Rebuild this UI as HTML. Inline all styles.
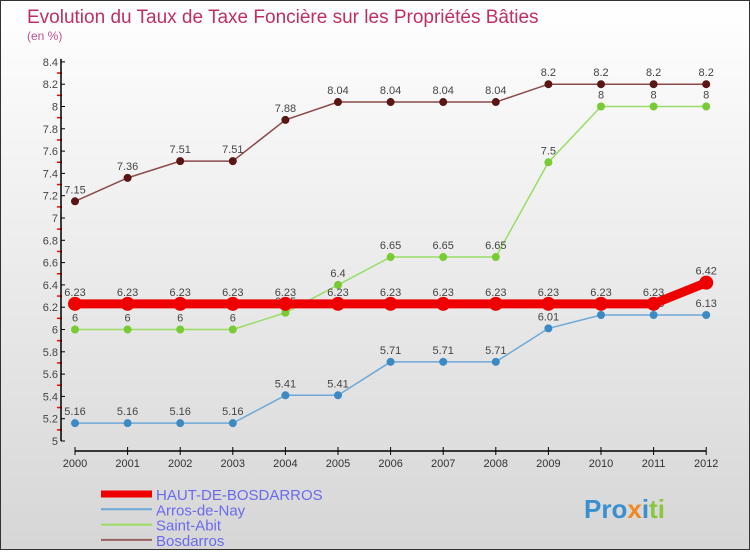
<!DOCTYPE html>
<html><head><meta charset="utf-8"><style>
html,body{margin:0;padding:0}
body{width:750px;height:550px;overflow:hidden;font-family:"Liberation Sans",sans-serif}
#wrap{position:relative;width:748px;height:548px;border:1px solid #333;background:linear-gradient(#ffffff,#d6d6d6)}
</style></head><body>
<div id="wrap">
<svg id="chart" width="748" height="548" xmlns="http://www.w3.org/2000/svg">
<text x="26" y="22" font-size="19" fill="#c0305f">Evolution du Taux de Taxe Foncière sur les Propriétés Bâties</text>
<text x="26" y="39" font-size="12" fill="#c0508f">(en %)</text>
<g id="axes"></g><g id="series"></g><g id="legend"></g>
<text x="583" y="517" font-size="26" font-weight="bold" fill="#3a8fd0">Pro<tspan fill="#f08a20">x</tspan><tspan fill="#3a8fd0">i</tspan><tspan fill="#8cc63f">ti</tspan></text>
</svg>
</div>
<script>
const years=[2000,2001,2002,2003,2004,2005,2006,2007,2008,2009,2010,2011,2012];
const haut=[6.23,6.23,6.23,6.23,6.23,6.23,6.23,6.23,6.23,6.23,6.23,6.23,6.42];
const arros=[5.16,5.16,5.16,5.16,5.41,5.41,5.71,5.71,5.71,6.01,6.13,6.13,6.13];
const saint=[6,6,6,6,6.15,6.4,6.65,6.65,6.65,7.5,8,8,8];
const bosd=[7.15,7.36,7.51,7.51,7.88,8.04,8.04,8.04,8.04,8.2,8.2,8.2,8.2];
const yTicks=[5,5.2,5.4,5.6,5.8,6,6.2,6.4,6.6,6.8,7,7.2,7.4,7.6,7.8,8,8.2,8.4];
const NS="http://www.w3.org/2000/svg";
const X=i=>74+i*52.6;
const Y=v=>440-(v-5)*111.5;
function mk(t,a,p){const e=document.createElementNS(NS,t);for(const k in a)e.setAttribute(k,a[k]);(p||document.getElementById('series')).appendChild(e);return e;}
const ax=document.getElementById('axes');
yTicks.forEach((v,i)=>{
 if(i<yTicks.length-1){const r=mk('line',{x1:56,x2:61,y1:Y(v+0.1),y2:Y(v+0.1),stroke:'#f00','stroke-width':1.5},ax);
 }
});
let e=mk('line',{x1:60,y1:Y(8.4)-3,x2:60,y2:Y(5),stroke:'#000','stroke-width':1.5},ax);

yTicks.forEach((v,i)=>{
 const t=mk('line',{x1:60,x2:64,y1:Y(v),y2:Y(v),stroke:'#000'},ax);
 
 const l=mk('text',{x:57,y:Y(v)+4,'font-size':11,'text-anchor':'end',fill:'#444'},ax);l.textContent=v;
 
});
e=mk('line',{x1:X(0),y1:450,x2:X(12),y2:450,stroke:'#000','stroke-width':1.5},ax);

years.forEach((y,i)=>{
 const t=mk('line',{x1:X(i),x2:X(i),y1:446,y2:454,stroke:'#000'},ax);
 
 const l=mk('text',{x:X(i),y:466,'font-size':11,'text-anchor':'middle',fill:'#333'},ax);l.textContent=y;
 
});
function series(vals,color,dot,w,r,name){
 const g=mk('g',{});
 const p=mk('polyline',{points:vals.map((v,i)=>X(i)+','+Y(v)).join(' '),fill:'none',stroke:color,'stroke-width':w},g);
 
 vals.forEach((v,i)=>{
  const c=mk('circle',{cx:X(i),cy:Y(v),r:r,fill:dot},g);
  
  const t=mk('text',{x:X(i),y:Y(v)-8,'font-size':11,'text-anchor':'middle',fill:'#444'},g);t.textContent=v;
  
 });
}
series(arros,'#6ea8d8','#3b8ac4',1.5,4,'arros-de-nay');
series(saint,'#99dd66','#77cc33',1.5,4,'saint-abit');
series(bosd,'#8b4a4a','#5a1515',1.5,4,'bosdarros');
series(haut,'#ee0000','#ee0000',9,7,'haut-de-bosdarros');
const lg=document.getElementById('legend');
[['HAUT-DE-BOSDARROS','#ee0000',7],['Arros-de-Nay','#6ea8d8',2],['Saint-Abit','#99dd66',2],['Bosdarros','#9a6060',2]].forEach((d,i)=>{
 const y=493+i*15.3;
 const l=mk('line',{x1:100,x2:151,y1:y,y2:y,stroke:d[1],'stroke-width':d[2]},lg);
 
 const t=mk('text',{x:155,y:y+6,'font-size':15,fill:'#6a6aee'},lg);t.textContent=d[0];
 
});
</script>
</body></html>
